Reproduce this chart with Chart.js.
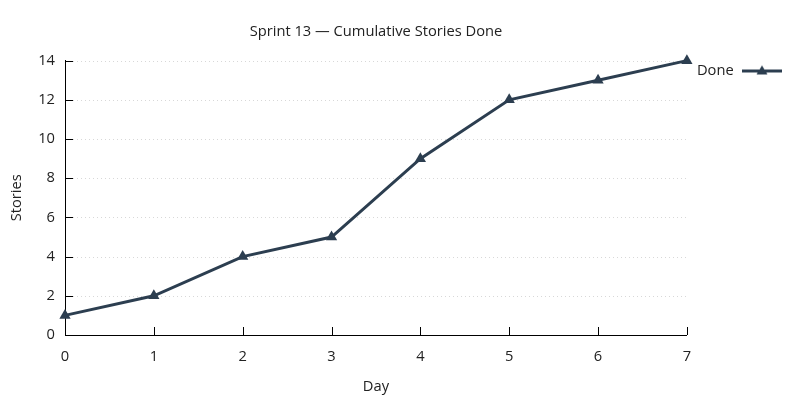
<!DOCTYPE html>
<html>
<head>
<meta charset="utf-8">
<script src="https://cdn.jsdelivr.net/npm/chart.js@4.4.0/dist/chart.umd.min.js"></script>
<style>
  html, body { margin: 0; padding: 0; background: #fff; }
  #wrap { width: 800px; height: 400px; }
</style>
</head>
<body>
<div id="wrap"><canvas id="burnChart" width="800" height="400"></canvas></div>
<script>
var days = ['0', '1', '2', '3', '4', '5', '6', '7'];
var storiesDone = [1, 2, 4, 5, 9, 12, 13, 14];
var yTicks = [0, 2, 4, 6, 8, 10, 12, 14];

var lineColor = 'rgb(44, 62, 80)';
Chart.defaults.font.family = '"Open Sans", "Noto Sans", sans-serif';
Chart.defaults.font.size = 14.7;
Chart.defaults.color = '#222';

// legend sample: line with a triangle on it
var sample = document.createElement('canvas');
sample.width = 42;
sample.height = 15;
var sctx = sample.getContext('2d');
sctx.strokeStyle = lineColor;
sctx.lineWidth = 3;
sctx.beginPath();
sctx.moveTo(1, 7.5);
sctx.lineTo(41, 7.5);
sctx.stroke();
sctx.fillStyle = lineColor;
sctx.beginPath();
sctx.moveTo(21, 2);
sctx.lineTo(26.5, 11);
sctx.lineTo(15.5, 11);
sctx.closePath();
sctx.fill();

// dotted grid and inward ticks, gnuplot style
var innerTicks = {
  id: 'innerTicks',
  beforeDatasetsDraw: function (chart) {
    var ctx = chart.ctx, area = chart.chartArea;
    var x = chart.scales.x, y = chart.scales.y;
    ctx.save();
    ctx.lineWidth = 1;
    ctx.strokeStyle = '#d8d8d8';
    ctx.setLineDash([1, 3]);
    yTicks.forEach(function (v) {
      if (v === 0) return;
      var py = Math.round(y.getPixelForValue(v)) + 0.5;
      ctx.beginPath();
      ctx.moveTo(area.left, py);
      ctx.lineTo(area.right, py);
      ctx.stroke();
    });
    ctx.setLineDash([]);
    ctx.strokeStyle = '#000';
    yTicks.forEach(function (v) {
      var py = Math.round(y.getPixelForValue(v)) + 0.5;
      ctx.beginPath();
      ctx.moveTo(area.left, py);
      ctx.lineTo(area.left + 8, py);
      ctx.stroke();
    });
    days.forEach(function (d, i) {
      var px = Math.round(x.getPixelForValue(i)) + 0.5;
      ctx.beginPath();
      ctx.moveTo(px, area.bottom);
      ctx.lineTo(px, area.bottom - 8);
      ctx.stroke();
    });
    ctx.restore();
  }
};

var burnCtx = document.getElementById('burnChart').getContext('2d');
var burnChart = new Chart(burnCtx, {
  type: 'line',
  data: {
    labels: days,
    datasets: [{
      label: 'Done',
      data: storiesDone,
      borderColor: lineColor,
      backgroundColor: lineColor,
      borderWidth: 3,
      pointStyle: 'triangle',
      pointRadius: 6.5,
      pointHoverRadius: 6.5,
      pointBorderWidth: 0,
      tension: 0,
      clip: false
    }]
  },
  options: {
    responsive: false,
    animation: false,
    layout: {
      padding: { left: 0, right: 14, top: 0, bottom: 0 }
    },
    plugins: {
      title: {
        display: true,
        fullSize: false,
        text: 'Sprint 13 — Cumulative Stories Done',
        font: { size: 14.7, weight: 'normal' },
        color: '#222',
        padding: { top: 23, bottom: 20 }
      },
      legend: {
        position: 'right',
        align: 'start',
        fullSize: false,
        rtl: true,
        labels: {
          usePointStyle: true,
          pointStyle: sample,
          pointStyleWidth: 42,
          padding: 3,
          color: '#222',
          font: { size: 14.7 }
        }
      },
      tooltip: { enabled: false }
    },
    scales: {
      x: {
        type: 'category',
        offset: false,
        grid: { display: false, drawTicks: false },
        border: { display: true, color: '#000', width: 1 },
        ticks: { padding: 13, color: '#222', maxRotation: 0 },
        title: { display: true, text: 'Day', color: '#222', padding: { top: 8 } },
        afterFit: function (s) { s.height = 65; }
      },
      y: {
        min: 0,
        max: 14,
        ticks: { stepSize: 2, padding: 10, color: '#222' },
        grid: { display: false, drawTicks: false },
        border: { display: true, color: '#000', width: 1 },
        title: { display: true, text: 'Stories', color: '#222', padding: { top: 8, bottom: 4 } },
        afterFit: function (s) { s.width = 65; }
      }
    }
  },
  plugins: [innerTicks]
});
</script>
</body>
</html>
